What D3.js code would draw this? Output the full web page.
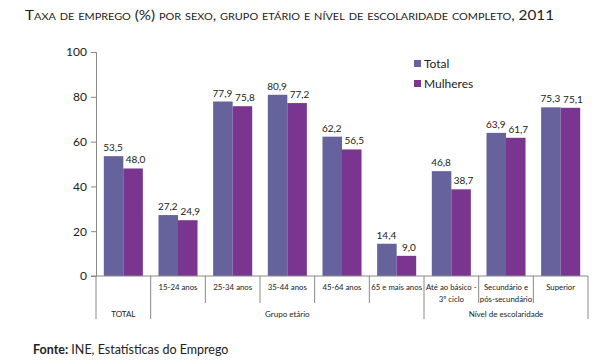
<!DOCTYPE html>
<html>
<head>
<meta charset="utf-8">
<script src="https://cdn.jsdelivr.net/npm/d3@7"></script>
<style>
  body { margin: 0; background: #fff; }
  svg { display: block; font-family: Lato, "Open Sans", sans-serif; }
</style>
</head>
<body>
<svg id="chart" width="610" height="364"></svg>
<script>
const categories = ["TOTAL", "15-24 anos", "25-34 anos", "35-44 anos", "45-64 anos",
  "65 e mais anos", "Até ao básico -\n3º ciclo", "Secundário e\npós-secundário", "Superior"];
const totalValues = [53.5, 27.2, 77.9, 80.9, 62.2, 14.4, 46.8, 63.9, 75.3];
const mulheresValues = [48.0, 24.9, 75.8, 77.2, 56.5, 9.0, 38.7, 61.7, 75.1];
const seriesNames = ["Total", "Mulheres"];
const groupNames = ["TOTAL", "Grupo etário", "Nível de escolaridade"];
const groupSizes = [1, 5, 3];
const yTicks = [0, 20, 40, 60, 80, 100];
const colors = ["#66639c", "#7a3590"];
const title = "Taxa de emprego (%) por sexo, grupo etário e nível de escolaridade completo, 2011";

(function () {
const svg = d3.select("#chart");
const mLeft = 96, mRight = 588, mTop = 52, mBottom = 276;

const x0 = d3.scaleBand().domain(d3.range(categories.length)).range([mLeft, mRight]).padding(0);
const x1 = d3.scaleBand().domain(seriesNames).range([0, x0.bandwidth()]).paddingInner(0).paddingOuter(0.4);
const y = d3.scaleLinear().domain([0, 100]).range([mBottom, mTop]);

// Title
svg.append("text")
  .attr("x", 25).attr("y", 19.5)
  .attr("font-size", 14).attr("fill", "#222")
  .style("font-variant", "small-caps")
  .attr("textLength", 529).attr("lengthAdjust", "spacingAndGlyphs")
  .text(title);

// Y axis
const yAxis = d3.axisLeft(y).tickValues(yTicks).tickSize(5).tickPadding(4);
const gy = svg.append("g").attr("transform", `translate(${mLeft},0)`).call(yAxis);
gy.select(".domain").attr("stroke", "#888");
gy.selectAll(".tick line").attr("stroke", "#888");
gy.selectAll(".tick text").attr("font-size", 12).attr("fill", "#222")
  .attr("font-family", "Lato, 'Open Sans', sans-serif");

// Bars
const g = svg.append("g");
categories.forEach((c, i) => {
  [totalValues[i], mulheresValues[i]].forEach((v, k) => {
    const bx = x0(i) + x1(seriesNames[k]);
    g.append("rect")
      .attr("x", bx).attr("y", y(v))
      .attr("width", x1.bandwidth()).attr("height", y(0) - y(v))
      .attr("fill", colors[k]);
    g.append("text")
      .attr("x", bx + x1.bandwidth() / 2 + (k === 1 ? 2.5 : -0.5)).attr("y", y(v) - 5)
      .attr("text-anchor", "middle").attr("font-size", 10).attr("fill", "#222")
      .text(v.toFixed(1).replace(".", ","));
  });
});

// X axis baseline
svg.append("line").attr("x1", mLeft - 5).attr("x2", mRight).attr("y1", mBottom).attr("y2", mBottom)
  .attr("stroke", "#888");

// Separators
const groupBounds = [0];
groupSizes.forEach((s, i) => groupBounds.push(groupBounds[i] + s));
for (let i = 0; i <= categories.length; i++) {
  const xx = i < categories.length ? x0(i) : mRight;
  const isLong = groupBounds.includes(i);
  svg.append("line").attr("x1", xx).attr("x2", xx)
    .attr("y1", mBottom).attr("y2", isLong ? 319 : 303)
    .attr("stroke", "#888");
}

// Category labels
categories.forEach((c, i) => {
  if (i === 0) return;
  const lines = c.split("\n");
  const t = svg.append("text").attr("text-anchor", "middle").attr("font-size", 7.8).attr("fill", "#222");
  lines.forEach((ln, j) => {
    t.append("tspan").attr("x", x0(i) + x0.bandwidth() / 2).attr("y", 289.5 + j * 12).text(ln);
  });
});

// Group labels
groupNames.forEach((gname, i) => {
  const a = x0(groupBounds[i]);
  const b = groupBounds[i + 1] < categories.length ? x0(groupBounds[i + 1]) : mRight;
  svg.append("text").attr("x", (a + b) / 2).attr("y", 317)
    .attr("text-anchor", "middle").attr("font-size", 8).attr("fill", "#222").text(gname);
});

// Legend
seriesNames.forEach((s, k) => {
  svg.append("rect").attr("x", 414).attr("y", 60 + k * 20).attr("width", 7).attr("height", 7).attr("fill", colors[k]);
  svg.append("text").attr("x", 424).attr("y", 67.5 + k * 20).attr("font-size", 12).attr("fill", "#222").text(s);
});

// Source
const src = svg.append("text").attr("x", 33).attr("y", 354).attr("font-size", 12.5).attr("fill", "#222");
src.append("tspan").attr("font-weight", "bold").text("Fonte:");
src.append("tspan").text(" INE, Estatísticas do Emprego");
})();
</script>
</body>
</html>
